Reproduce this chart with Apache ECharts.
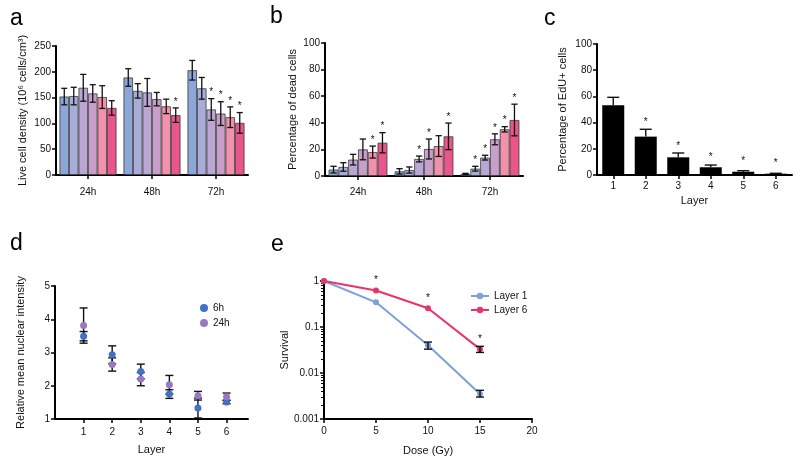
<!DOCTYPE html>
<html><head><meta charset="utf-8">
<script src="https://cdn.jsdelivr.net/npm/echarts@6/dist/echarts.min.js"></script>
<style>html,body{margin:0;padding:0;background:#fff}#c{width:800px;height:464px}</style>
</head><body><div id="c"></div>
<script>
// ---------- data ----------
const timeCats = ['24h', '48h', '72h'];
const barColors = ['#8ca7d7', '#a8acd8', '#baa6d2', '#c89fc8', '#f191ab', '#e8568a'];
// panel a: live cell density, 6 layers per time point
const densMean24 = [152, 153, 169, 158, 151, 130];
const densSd24 = [16, 17, 26, 17, 22, 14];
const densMean48 = [189, 163, 160, 147, 133, 116];
const densSd48 = [17, 14, 27, 13, 14, 14];
const densMean72 = [203, 168, 127, 119, 112, 101];
const densSd72 = [19, 21, 21, 23, 20, 20];
const densStars = [[1, 5], [2, 2], [2, 3], [2, 4], [2, 5]];
// panel b: percentage of dead cells
const deadMean24 = [4.8, 6.8, 12.3, 20, 18, 25];
const deadSd24 = [2.5, 3.2, 4, 7.8, 4.5, 7.6];
const deadMean48 = [3.5, 4.5, 12.8, 20.3, 22.5, 29.8];
const deadSd48 = [2, 2.3, 2.2, 7.5, 7.8, 10];
const deadMean72 = [1.5, 5.5, 13.8, 27.6, 35.1, 42.1];
const deadSd72 = [0.5, 1.8, 1.8, 4.1, 2, 11.9];
const deadStars = [[0, 4], [0, 5], [1, 2], [1, 3], [1, 5], [2, 1], [2, 2], [2, 3], [2, 4], [2, 5]];
// panel c: EdU+ cells
const layerCats = ['1', '2', '3', '4', '5', '6'];
const eduMean = [53.2, 29.3, 13.5, 5.9, 2.5, 1.0];
const eduSd = [6.1, 5.6, 3.3, 1.7, 0.8, 0.3];
const eduStars = [0, 1, 1, 1, 1, 1];
// panel d: relative mean nuclear intensity
const layerNums = [1, 2, 3, 4, 5, 6];
const int6hMean = [3.49, 2.93, 2.43, 1.75, 1.33, 1.51];
const int6hSd = [0.14, 0.27, 0.22, 0.13, 0.30, 0.05];
const int24hMean = [3.81, 2.64, 2.20, 2.03, 1.70, 1.67];
const int24hSd = [0.53, 0.20, 0.20, 0.28, 0.13, 0.11];
// panel e: survival
const doses = [0, 5, 10, 15];
const surv1 = [1, 0.344, 0.04, 0.0035];
const surv1Low = [1, 0.344, 0.033, 0.0030];
const surv1High = [1, 0.344, 0.047, 0.0042];
const surv6 = [1, 0.62, 0.255, 0.033];
const surv6Low = [1, 0.62, 0.255, 0.028];
const surv6High = [1, 0.62, 0.255, 0.038];
const surv6Stars = [0, 1, 1, 1];

// ---------- helpers ----------
const FONT = 'Liberation Sans';
const INK = '#111';
function axisBase(extra) {
  return Object.assign({
    axisLine: { show: true, onZero: false, lineStyle: { color: '#000', width: 2 } },
    axisTick: { show: true, length: 4, lineStyle: { color: '#000', width: 1.5 } },
    axisLabel: { color: INK, fontSize: 10, margin: 5, fontFamily: FONT },
    splitLine: { show: false },
    nameTextStyle: { color: INK, fontSize: 11, fontFamily: FONT },
    nameLocation: 'middle'
  }, extra);
}
const GAP = 0.11;
function groupedErr(nBars, gap) {
  return function (params, api) {
    const g = api.value(0), i = api.value(1), lo = api.value(2), hi = api.value(3), st = api.value(4);
    const pLo = api.coord([g, lo]);
    const pHi = api.coord([g, hi]);
    const band = api.size([1, 0])[0];
    const total = band * (1 - gap);
    const bw = total / nBars;
    const x = pLo[0] - total / 2 + bw * (i + 0.5);
    const cap = bw * 0.32;
    const style = { stroke: INK, lineWidth: 1.3 };
    const ch = [
      { type: 'line', shape: { x1: x, y1: pLo[1], x2: x, y2: pHi[1] }, style },
      { type: 'line', shape: { x1: x - cap, y1: pHi[1], x2: x + cap, y2: pHi[1] }, style },
      { type: 'line', shape: { x1: x - cap, y1: pLo[1], x2: x + cap, y2: pLo[1] }, style }
    ];
    if (st) ch.push({ type: 'text', x: x, y: pHi[1] - 1, style: { text: '*', fill: INK, fontSize: 10, fontFamily: FONT, align: 'center', verticalAlign: 'bottom' } });
    return { type: 'group', children: ch };
  };
}
function errData(means, sds, stars) {
  const out = [];
  means.forEach((m, g) => m.forEach((v, i) => {
    const s = stars.some(p => p[0] === g && p[1] === i) ? 1 : 0;
    out.push([g, i, v - sds[g][i], v + sds[g][i], s]);
  }));
  return out;
}
function simpleErr(capHalf, upperOnly) {
  return function (params, api) {
    const x = api.value(0), m = api.value(1), lo = api.value(2), hi = api.value(3), st = api.value(4);
    if (lo === hi && !st) return null;
    const pM = api.coord([x, m]);
    const pLo = api.coord([x, lo]);
    const pHi = api.coord([x, hi]);
    const style = { stroke: INK, lineWidth: 1.4 };
    const ch = [];
    if (lo !== hi) {
      ch.push({ type: 'line', shape: { x1: pM[0], y1: upperOnly ? pM[1] : pLo[1], x2: pM[0], y2: pHi[1] }, style });
      ch.push({ type: 'line', shape: { x1: pM[0] - capHalf, y1: pHi[1], x2: pM[0] + capHalf, y2: pHi[1] }, style });
      if (!upperOnly) ch.push({ type: 'line', shape: { x1: pM[0] - capHalf, y1: pLo[1], x2: pM[0] + capHalf, y2: pLo[1] }, style });
    }
    if (st) ch.push({ type: 'text', x: pM[0], y: Math.min(pHi[1], pM[1] - 3) - 2, style: { text: '*', fill: INK, fontSize: 10, fontFamily: FONT, align: 'center', verticalAlign: 'bottom' } });
    return { type: 'group', children: ch };
  };
}

// ---------- build ----------
const densMeans = [densMean24, densMean48, densMean72];
const densSds = [densSd24, densSd48, densSd72];
const deadMeans = [deadMean24, deadMean48, deadMean72];
const deadSds = [deadSd24, deadSd48, deadSd72];

const series = [];
for (let i = 0; i < 6; i++) {
  series.push({
    type: 'bar', xAxisIndex: 0, yAxisIndex: 0, barGap: '0%', barCategoryGap: (GAP * 100) + '%',
    data: densMeans.map(a => a[i]),
    itemStyle: { color: barColors[i], borderColor: '#3a3a3a', borderWidth: 0.8 }, z: 2
  });
}
series.push({ type: 'custom', xAxisIndex: 0, yAxisIndex: 0, renderItem: groupedErr(6, GAP), data: errData(densMeans, densSds, densStars), encode: { x: 0, y: [2, 3] }, z: 5 });
for (let i = 0; i < 6; i++) {
  series.push({
    type: 'bar', xAxisIndex: 1, yAxisIndex: 1, barGap: '0%', barCategoryGap: (GAP * 100) + '%',
    data: deadMeans.map(a => a[i]),
    itemStyle: { color: barColors[i], borderColor: '#3a3a3a', borderWidth: 0.8 }, z: 2
  });
}
series.push({ type: 'custom', xAxisIndex: 1, yAxisIndex: 1, renderItem: groupedErr(6, GAP), data: errData(deadMeans, deadSds, deadStars), encode: { x: 0, y: [2, 3] }, z: 5 });
// c
series.push({ type: 'bar', xAxisIndex: 2, yAxisIndex: 2, barWidth: 22, data: eduMean, itemStyle: { color: '#000' } });
series.push({ type: 'custom', xAxisIndex: 2, yAxisIndex: 2, renderItem: simpleErr(6, true),
  data: eduMean.map((m, i) => [i, m, m - eduSd[i], m + eduSd[i], eduStars[i]]), encode: { x: 0, y: [1, 3] }, z: 5 });
// d
series.push({ type: 'custom', xAxisIndex: 3, yAxisIndex: 3, renderItem: simpleErr(4, false),
  data: layerNums.map((x, i) => [x, int6hMean[i], int6hMean[i] - int6hSd[i], int6hMean[i] + int6hSd[i], 0]), encode: { x: 0, y: [2, 3] }, z: 3 });
series.push({ type: 'custom', xAxisIndex: 3, yAxisIndex: 3, renderItem: simpleErr(4, false),
  data: layerNums.map((x, i) => [x, int24hMean[i], int24hMean[i] - int24hSd[i], int24hMean[i] + int24hSd[i], 0]), encode: { x: 0, y: [2, 3] }, z: 3 });
series.push({ name: '6h', type: 'scatter', xAxisIndex: 3, yAxisIndex: 3, symbolSize: 7, data: layerNums.map((x, i) => [x, int6hMean[i]]), itemStyle: { color: '#3f72c3', opacity: 1 }, z: 4 });
series.push({ name: '24h', type: 'scatter', xAxisIndex: 3, yAxisIndex: 3, symbolSize: 7, data: layerNums.map((x, i) => [x, int24hMean[i]]), itemStyle: { color: '#9a77c3', opacity: 1 }, z: 4 });
// e
series.push({ name: 'Layer 1', type: 'line', xAxisIndex: 4, yAxisIndex: 4, symbol: 'circle', symbolSize: 6, data: doses.map((d, i) => [d, surv1[i]]), lineStyle: { color: '#7ea0d6', width: 2 }, itemStyle: { color: '#7ea0d6' }, z: 3 });
series.push({ name: 'Layer 6', type: 'line', xAxisIndex: 4, yAxisIndex: 4, symbol: 'circle', symbolSize: 6, data: doses.map((d, i) => [d, surv6[i]]), lineStyle: { color: '#e8336b', width: 2 }, itemStyle: { color: '#e8336b' }, z: 3 });
series.push({ type: 'custom', xAxisIndex: 4, yAxisIndex: 4, renderItem: simpleErr(4, false),
  data: doses.map((d, i) => [d, surv1[i], surv1Low[i], surv1High[i], 0]), encode: { x: 0, y: [2, 3] }, z: 5 });
series.push({ type: 'custom', xAxisIndex: 4, yAxisIndex: 4, renderItem: simpleErr(4, false),
  data: doses.map((d, i) => [d, surv6[i], surv6Low[i], surv6High[i], surv6Stars[i]]), encode: { x: 0, y: [2, 3] }, z: 5 });

const letterStyle = { fontSize: 23, fontWeight: 'normal', color: '#000', fontFamily: FONT };
const option = {
  animation: false,
  textStyle: { fontFamily: FONT },
  title: [
    { text: 'a', left: 5, top: 2, textStyle: letterStyle },
    { text: 'b', left: 265, top: 0, textStyle: letterStyle },
    { text: 'c', left: 539, top: 2, textStyle: letterStyle },
    { text: 'd', left: 5, top: 227, textStyle: letterStyle },
    { text: 'e', left: 266, top: 228, textStyle: letterStyle }
  ],
  legend: [
    { data: ['6h', '24h'], orient: 'vertical', left: 195, top: 298, icon: 'circle', itemWidth: 8, itemHeight: 8, itemGap: 5,
      textStyle: { fontSize: 10, color: INK, fontFamily: FONT } },
    { data: ['Layer 1', 'Layer 6'], orient: 'vertical', left: 465, top: 286, itemWidth: 18, itemHeight: 8, itemGap: 4,
      textStyle: { fontSize: 10, color: INK, fontFamily: FONT } }
  ],
  grid: [
    { left: 56, top: 46, width: 192, height: 129, outerBoundsMode: 'none' },
    { left: 325, top: 43, width: 198, height: 133, outerBoundsMode: 'none' },
    { left: 597, top: 44, width: 195, height: 131, outerBoundsMode: 'none' },
    { left: 55, top: 286, width: 193, height: 133, outerBoundsMode: 'none' },
    { left: 324, top: 281, width: 208, height: 138, outerBoundsMode: 'none' }
  ],
  xAxis: [
    axisBase({ gridIndex: 0, type: 'category', data: timeCats, axisTick: { show: true, alignWithLabel: true, length: 4, lineStyle: { color: '#000', width: 1.5 } }, axisLabel: { color: INK, fontSize: 10, margin: 12, fontFamily: FONT } }),
    axisBase({ gridIndex: 1, type: 'category', data: timeCats, axisTick: { show: true, alignWithLabel: true, length: 4, lineStyle: { color: '#000', width: 1.5 } }, axisLabel: { color: INK, fontSize: 10, margin: 11, fontFamily: FONT } }),
    axisBase({ gridIndex: 2, type: 'category', data: layerCats, name: 'Layer', nameGap: 20, axisTick: { show: true, alignWithLabel: true, length: 4, lineStyle: { color: '#000', width: 1.5 } }, axisLabel: { color: INK, fontSize: 10, margin: 6, fontFamily: FONT } }),
    axisBase({ gridIndex: 3, type: 'value', min: 0, max: 6.75, name: 'Layer', nameGap: 25,
      axisTick: { show: true, length: 4, customValues: layerNums, lineStyle: { color: '#000', width: 1.5 } },
      axisLabel: { color: INK, fontSize: 10, margin: 8, fontFamily: FONT, customValues: layerNums } }),
    axisBase({ gridIndex: 4, type: 'value', min: 0, max: 20, interval: 5, name: 'Dose (Gy)', nameGap: 26, axisLabel: { color: INK, fontSize: 10, margin: 7, fontFamily: FONT } })
  ],
  yAxis: [
    axisBase({ gridIndex: 0, type: 'value', min: 0, max: 250, interval: 50, name: 'Live cell density (10⁶ cells/cm³)', nameGap: 28 }),
    axisBase({ gridIndex: 1, type: 'value', min: 0, max: 100, interval: 20, name: 'Percentage of dead cells', nameGap: 27 }),
    axisBase({ gridIndex: 2, type: 'value', min: 0, max: 100, interval: 20, name: 'Percentage of EdU+ cells', nameGap: 29 }),
    axisBase({ gridIndex: 3, type: 'value', min: 1, max: 5, interval: 1, name: 'Relative mean nuclear intensity', nameGap: 29 }),
    axisBase({ gridIndex: 4, type: 'log', logBase: 10, min: 0.001, max: 1, name: 'Survival', nameGap: 34,
      minorTick: { show: true, splitNumber: 9, length: 3, lineStyle: { color: '#000', width: 1 } },
      axisLabel: { color: INK, fontSize: 10, margin: 5, fontFamily: FONT, formatter: v => String(+Number(v).toPrecision(1)) } })
  ],
  series: series
};
const chart = echarts.init(document.getElementById('c'), null, { renderer: 'canvas' });
chart.setOption(option);
</script>
</body></html>
